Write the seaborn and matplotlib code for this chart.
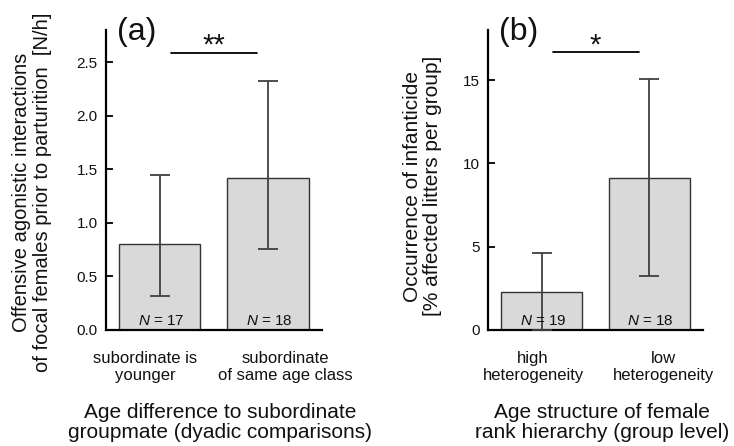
import numpy as np
import pandas as pd
import matplotlib
matplotlib.use("Agg")
import matplotlib.pyplot as plt
import matplotlib.transforms as mtransforms
import seaborn as sns

# ---- panel (a): offensive agonistic interactions ----
cats_a = ["subordinate is\nyounger", "subordinate\nof same age class"]
mean_a = [0.80, 1.42]
low_a = [0.32, 0.76]
high_a = [1.45, 2.32]
n_a = [17, 18]
sig_a = "**"

# ---- panel (b): occurrence of infanticide ----
cats_b = ["high\nheterogeneity", "low\nheterogeneity"]
mean_b = [2.25, 9.12]
low_b = [0.0, 3.24]
high_b = [4.64, 15.06]
n_b = [19, 18]
sig_b = "*"

sns.set_style("ticks")
plt.rcParams["font.family"] = ["Liberation Sans", "DejaVu Sans"]
plt.rcParams["mathtext.fontset"] = "custom"
plt.rcParams["mathtext.rm"] = "Liberation Sans"
plt.rcParams["mathtext.it"] = "Liberation Sans:italic"
plt.rcParams["text.color"] = "#111111"
plt.rcParams["axes.labelcolor"] = "#111111"
plt.rcParams["xtick.color"] = "#111111"
plt.rcParams["ytick.color"] = "#111111"

BAR_FILL = "#d9d9d9"
BAR_EDGE = "#333333"
ERR_COL = "#404040"

fig = plt.figure(figsize=(7.34, 4.46), dpi=100)
ax_a = fig.add_axes([0.1444, 0.2601, 0.2943, 0.6726])
ax_b = fig.add_axes([0.6649, 0.2601, 0.2929, 0.6726])


def draw_panel(ax, cats, mean, low, high, ns, sig, ylim, yticks, ytick_fmt,
               ylabel, ylab_size, ylab_y, xlabel, letter, sig_y, tick_shift,
               ylab_x, xlab_x):
    df = pd.DataFrame({"group": cats, "value": mean})
    sns.barplot(data=df, x="group", y="value", ax=ax, color=BAR_FILL,
                saturation=1, edgecolor=BAR_EDGE, linewidth=1.0, width=0.75,
                errorbar=None)
    pos = np.arange(len(cats))
    mean = np.asarray(mean)
    yerr = [mean - np.asarray(low), np.asarray(high) - mean]
    ax.errorbar(pos, mean, yerr=yerr, fmt="none", ecolor=ERR_COL,
                elinewidth=1.3, capsize=7, capthick=1.3, zorder=3)

    ax.set_xlim(-0.5, 1.5)
    ax.set_ylim(*ylim)
    ax.set_yticks(yticks)
    ax.set_yticklabels([ytick_fmt.format(t) for t in yticks])
    ax.set_xticks(pos + np.asarray(tick_shift))
    ax.set_xticklabels(cats)
    sns.despine(ax=ax)
    for s in ("left", "bottom"):
        ax.spines[s].set_linewidth(1.6)
        ax.spines[s].set_color("black")
    ax.tick_params(axis="y", direction="in", length=5, width=1.3,
                   labelsize=11, pad=6, color="black")
    ax.tick_params(axis="x", length=0, labelsize=12, pad=15)

    ax.set_ylabel(ylabel, fontsize=ylab_size, linespacing=1.1)
    ax.yaxis.set_label_coords(ylab_x, ylab_y)
    ax.set_xlabel(xlabel, fontsize=15, linespacing=1.1)
    ax.xaxis.set_label_coords(xlab_x, -0.242)

    # sample sizes inside the bars
    tr = mtransforms.blended_transform_factory(ax.transData, ax.transAxes)
    for p, n in zip(pos, ns):
        ax.text(p + 0.01, 0.017, f"$\\it{{N}}$ = {n}", transform=tr,
                ha="center", va="baseline", fontsize=11, zorder=4)

    # significance bracket
    ax.plot([0.10, 0.90], [sig_y, sig_y], color="black", lw=1.3,
            clip_on=False)
    ax.annotate(sig, xy=(0.5, sig_y), xytext=(0, -1),
                textcoords="offset points", ha="center", va="baseline",
                fontsize=21, annotation_clip=False)

    ax.text(0.05, 0.995, letter, transform=ax.transAxes, ha="left",
            va="center", fontsize=23)


draw_panel(ax_a, cats_a, mean_a, low_a, high_a, n_a, sig_a,
           ylim=(0, 2.8), yticks=[0.0, 0.5, 1.0, 1.5, 2.0, 2.5],
           ytick_fmt="{:.1f}",
           ylabel="Offensive agonistic interactions\n"
                  "of focal females prior to parturition  [N/h]",
           ylab_size=14.5, ylab_y=0.46,
           xlabel="Age difference to subordinate\n"
                  "groupmate (dyadic comparisons)",
           letter="(a)", sig_y=2.59, tick_shift=[-0.14, 0.16],
           ylab_x=-0.25, xlab_x=0.53)

draw_panel(ax_b, cats_b, mean_b, low_b, high_b, n_b, sig_b,
           ylim=(0, 18), yticks=[0, 5, 10, 15], ytick_fmt="{:d}",
           ylabel="Occurrence of infanticide\n"
                  "[% affected litters per group]",
           ylab_size=15, ylab_y=0.48,
           xlabel="Age structure of female\n"
                  "rank hierarchy (group level)",
           letter="(b)", sig_y=16.7, tick_shift=[-0.08, 0.13],
           ylab_x=-0.214, xlab_x=0.53)

fig.savefig("out.png", dpi=100)
